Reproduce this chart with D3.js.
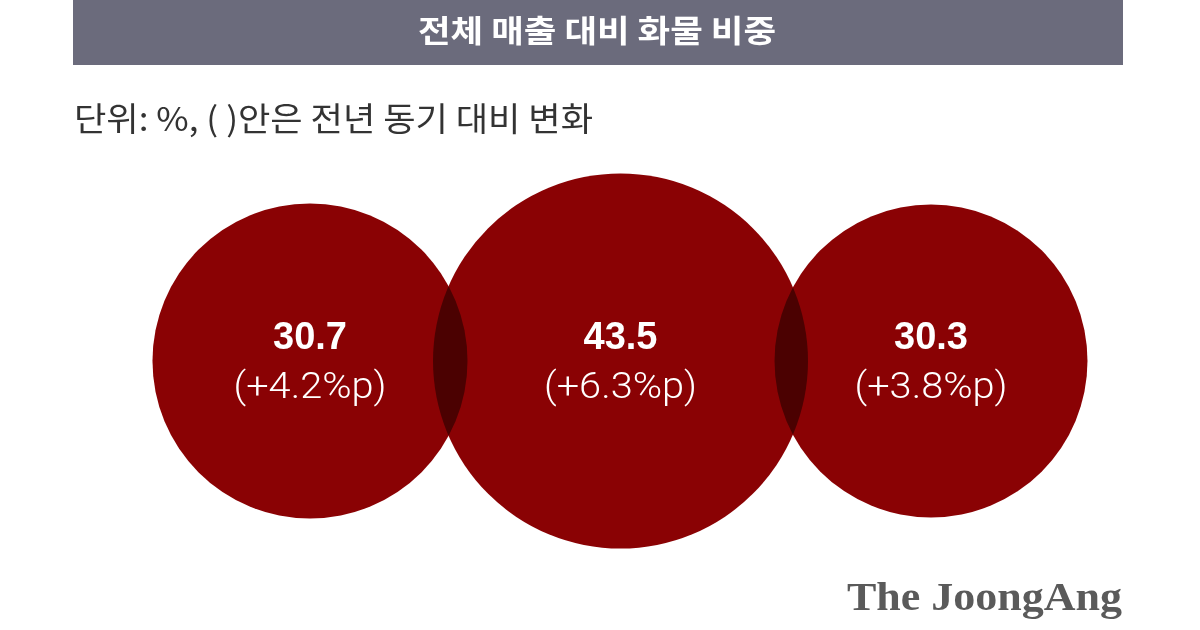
<!DOCTYPE html>
<html>
<head>
<meta charset="utf-8">
<script src="https://cdn.jsdelivr.net/npm/d3@7/dist/d3.min.js"></script>
<style>
  html, body { margin: 0; padding: 0; background: #fff; }
  svg { display: block; }
</style>
</head>
<body>
<svg id="chart" width="1200" height="630"></svg>
<script>
const titleText = "전체 매출 대비 화물 비중";
const subtitleText = "단위: %, ( )안은 전년 동기 대비 변화";
const categories = ["A", "B", "C"];
const shares = [30.7, 43.5, 30.3];
const changes = ["(+4.2%p)", "(+6.3%p)", "(+3.8%p)"];
const sourceText = "The JoongAng";

const svg = d3.select("#chart");
const KR = "'Noto Sans CJK KR', 'Noto Sans', sans-serif";

// title bar
svg.append("rect").attr("x", 73).attr("y", 0).attr("width", 1050).attr("height", 65).attr("fill", "#6b6b7c");
svg.append("text").attr("x", 597).attr("y", 42).attr("text-anchor", "middle")
  .attr("font-family", KR).attr("font-weight", 700).attr("font-size", 31)
  .attr("fill", "#fff").attr("textLength", 358).attr("lengthAdjust", "spacingAndGlyphs")
  .text(titleText);

// subtitle
svg.append("text").attr("x", 74).attr("y", 131)
  .attr("font-family", KR).attr("font-weight", 400).attr("font-size", 33)
  .attr("fill", "#333").attr("textLength", 519).attr("lengthAdjust", "spacingAndGlyphs")
  .text(subtitleText);

// scales
const x = d3.scalePoint().domain(categories).range([310, 931]);
const r = d3.scaleSqrt().domain([0, d3.max(shares)]).range([0, 187.5]);
const cy = 361;

const data = categories.map((c, i) => ({ c, v: shares[i], ch: changes[i] }));

const g = svg.append("g").style("isolation", "isolate");
g.selectAll("circle").data(data).join("circle")
  .attr("cx", d => x(d.c)).attr("cy", cy).attr("r", d => r(d.v))
  .attr("fill", "#8a0204")
  .style("mix-blend-mode", "multiply");

svg.selectAll("text.val").data(data).join("text").attr("class", "val")
  .attr("x", d => x(d.c)).attr("y", cy - 12).attr("text-anchor", "middle")
  .attr("font-family", "'Liberation Sans', Arial, sans-serif").attr("font-weight", 700)
  .attr("font-size", 38).attr("fill", "#fff")
  .text(d => d.v.toFixed(1));

svg.selectAll("text.chg").data(data).join("text").attr("class", "chg")
  .attr("x", d => x(d.c)).attr("y", cy + 37).attr("text-anchor", "middle")
  .attr("font-family", "Roboto, 'Liberation Sans', sans-serif").attr("font-weight", 300)
  .attr("font-size", 36).attr("fill", "#fff")
  .attr("textLength", 153).attr("lengthAdjust", "spacingAndGlyphs")
  .text(d => d.ch);

// source logo
svg.append("text").attr("x", 847).attr("y", 610)
  .attr("font-family", "'Liberation Serif', 'DejaVu Serif', serif").attr("font-weight", 700)
  .attr("font-size", 41).attr("fill", "#5a5a5a")
  .attr("textLength", 275).attr("lengthAdjust", "spacingAndGlyphs")
  .text(sourceText);
</script>
</body>
</html>
